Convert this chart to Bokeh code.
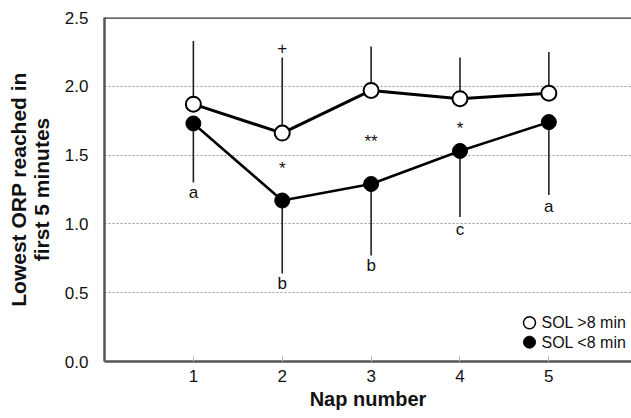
from bokeh.plotting import figure
from bokeh.models import ColumnDataSource, FixedTicker, NumeralTickFormatter, Span, Range1d
from bokeh.embed import file_html
from bokeh.resources import INLINE
from bokeh.core.properties import value

# ---- data ----
naps = [1, 2, 3, 4, 5]
sol_gt8_mean = [1.87, 1.66, 1.97, 1.91, 1.95]
sol_gt8_upper = [2.33, 2.21, 2.29, 2.21, 2.25]
sol_lt8_mean = [1.73, 1.17, 1.29, 1.53, 1.74]
sol_lt8_lower = [1.30, 0.64, 0.77, 1.05, 1.21]

sig_labels = ["+", "*", "**", "*"]
sig_x = [2, 2, 3, 4]
sig_y = [2.28, 1.40, 1.60, 1.69]

group_labels = ["a", "b", "b", "c", "a"]
group_y = [1.23, 0.565, 0.70, 0.96, 1.125]

y_ticks = [0.0, 0.5, 1.0, 1.5, 2.0, 2.5]
grid_ticks = [0.5, 1.0, 1.5, 2.0]
legend_labels = ["SOL >8 min", "SOL <8 min"]
y_title = "Lowest ORP reached in\nfirst 5 minutes"
x_title = "Nap number"

FONT = "Liberation Sans"
X_END = 5.93
Y_END = 2.5
W, H = 631, 418
BL, BT, BB = 104, 17, 57

p = figure(width=W, height=H, output_backend="svg", toolbar_location=None,
           x_range=Range1d(0, X_END), y_range=Range1d(0, Y_END),
           min_border_left=BL, min_border_right=0, min_border_top=BT, min_border_bottom=BB)
p.outline_line_color = None
p.background_fill_color = "white"

# axes
p.xaxis.ticker = FixedTicker(ticks=naps)
p.yaxis.ticker = FixedTicker(ticks=y_ticks)
p.yaxis.formatter = NumeralTickFormatter(format="0.0")
for ax in (p.xaxis, p.yaxis):
    ax.axis_line_color = "#555555"
    ax.axis_line_width = 2.5
    ax.minor_tick_line_color = None
    ax.major_label_text_font = FONT
    ax.major_label_text_font_size = "17px"
    ax.major_label_text_color = "#111111"
    ax.axis_label_text_font = FONT
    ax.axis_label_text_font_style = "bold"
    ax.axis_label_text_color = "#111111"
p.yaxis.major_tick_line_color = None
p.yaxis.major_label_standoff = 10
p.yaxis.axis_label = y_title
p.yaxis.axis_label_text_font_size = "21px"
p.yaxis.axis_label_standoff = 9
p.yaxis.axis_label_text_line_height = 1.0
p.xaxis.major_tick_in = 6
p.xaxis.major_tick_out = 0
p.xaxis.major_tick_line_color = "#bbbbbb"
p.xaxis.major_tick_line_width = 1
p.xaxis.major_label_standoff = 8
p.xaxis.axis_label = x_title
p.xaxis.axis_label_text_font_size = "20px"
p.xaxis.axis_label_standoff = 3

# grid
p.xgrid.grid_line_color = None
p.ygrid.ticker = FixedTicker(ticks=grid_ticks)
p.ygrid.grid_line_color = "#999999"
p.ygrid.grid_line_dash = "2 2"
p.ygrid.grid_line_width = 1

# top frame line
p.add_layout(Span(location=Y_END, dimension="width", line_color="#333333", line_width=2.5))

src_gt = ColumnDataSource(dict(x=naps, m=sol_gt8_mean, u=sol_gt8_upper))
src_lt = ColumnDataSource(dict(x=naps, m=sol_lt8_mean, l=sol_lt8_lower))

# error bars
p.segment(x0="x", y0="m", x1="x", y1="u", source=src_gt, line_color="#222222", line_width=1.6)
p.segment(x0="x", y0="m", x1="x", y1="l", source=src_lt, line_color="#222222", line_width=1.6)

# lines
p.line("x", "m", source=src_gt, line_color="black", line_width=3)
p.line("x", "m", source=src_lt, line_color="black", line_width=2.5)

# markers
p.scatter("x", "m", source=src_lt, size=15, fill_color="black", line_color="black", line_width=1)
p.scatter("x", "m", source=src_gt, size=15, fill_color="white", line_color="black", line_width=2)

# significance / group annotations
p.text(x=sig_x, y=sig_y, text=sig_labels, text_font=value(FONT), text_font_size="17px",
       text_align="center", text_baseline="middle", text_color="#111111")
p.text(x=naps, y=group_y, text=group_labels, text_font=value(FONT), text_font_size="17px",
       text_align="center", text_baseline="middle", text_color="#111111")

# manual legend (positions derived from frame geometry)
frame_w = W - BL
frame_h = H - BT - BB
fb = H - BB  # frame bottom (px from top)
lx = (529 - BL) / frame_w * X_END
ly1 = (fb - 322.3) / frame_h * Y_END
ly2 = (fb - 341.7) / frame_h * Y_END
tx = (541 - BL) / frame_w * X_END
p.scatter([lx], [ly1], size=12, fill_color="white", line_color="black", line_width=1.5)
p.scatter([lx], [ly2], size=12, fill_color="black", line_color="black")
p.text(x=[tx, tx], y=[ly1, ly2], text=legend_labels, text_font=value(FONT), text_font_size="16px",
       text_align="left", text_baseline="middle", text_color="#111111")

open("out.html", "w").write(file_html(p, INLINE))
